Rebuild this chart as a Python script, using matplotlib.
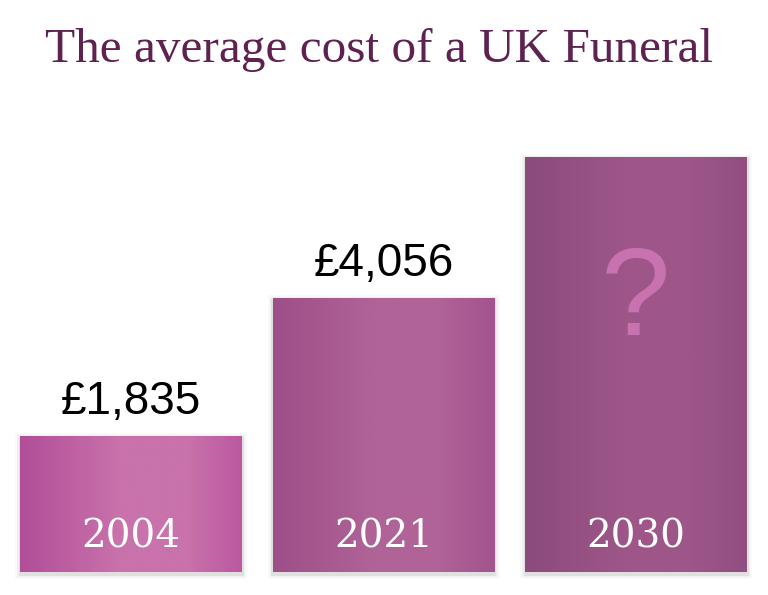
import numpy as np
import matplotlib
matplotlib.use("Agg")
import matplotlib.pyplot as plt
from matplotlib.colors import LinearSegmentedColormap
from matplotlib.patches import Rectangle

# data
years = ["2004", "2021", "2030"]
cost_labels = ["£1,835", "£4,056", ""]
bar_heights = [136, 274, 415]          # drawn height of each bar (not to scale with cost)
left_cols = ["#b14e99", "#9d4f87", "#8b4b7b"]
mid_cols = ["#c972ab", "#b06397", "#9e5689"]
right_cols = ["#bb599f", "#a3538d", "#914e7f"]

fig = plt.figure(figsize=(7.68, 5.95), dpi=100)
ax = fig.add_axes([0, 0, 1, 1])
ax.set_xlim(-131 / 252.5, (768 - 131) / 252.5)
ax.set_ylim(-23, 572)
ax.axis("off")

width = 222 / 252.5
grad = np.linspace(0, 1, 256).reshape(1, -1)
px = 1 / 252.5  # one pixel in x data units

for i, (yr, lab, h) in enumerate(zip(years, cost_labels, bar_heights)):
    x0 = i - width / 2
    # soft shadow, a bit lower than the bar
    for k, a in zip([5, 3, 1.5], [0.025, 0.04, 0.06]):
        ax.add_patch(Rectangle((x0 - k * px, -k - 2), width + 2 * k * px, h + 2 * k,
                               facecolor="black", edgecolor="none", alpha=a, zorder=1))
    cmap = LinearSegmentedColormap.from_list(
        "g%d" % i, [(0, left_cols[i]), (0.45, mid_cols[i]), (0.75, mid_cols[i]),
                    (1, right_cols[i])])
    ax.imshow(grad, cmap=cmap, aspect="auto", extent=[x0, x0 + width, 0, h],
              interpolation="bilinear", zorder=2)
    ax.text(i, 25, yr, ha="center", va="baseline", color="white",
            fontsize=28, family="DejaVu Serif", zorder=3)
    if lab:
        ax.text(i, h + 22, lab, ha="center", va="baseline", color="black",
                fontsize=33, family="Liberation Sans", zorder=3)

ax.text(2, 572 - 335, "?", ha="center", va="baseline", color="#c873b0",
        fontsize=90, family="Liberation Sans", zorder=3)

fig.text(45 / 768, 1 - 62 / 595, "The average cost of a UK Funeral", ha="left",
         va="baseline", color="#5e2150", fontsize=35.5, family="Liberation Serif")

fig.savefig("out.png", dpi=100)
